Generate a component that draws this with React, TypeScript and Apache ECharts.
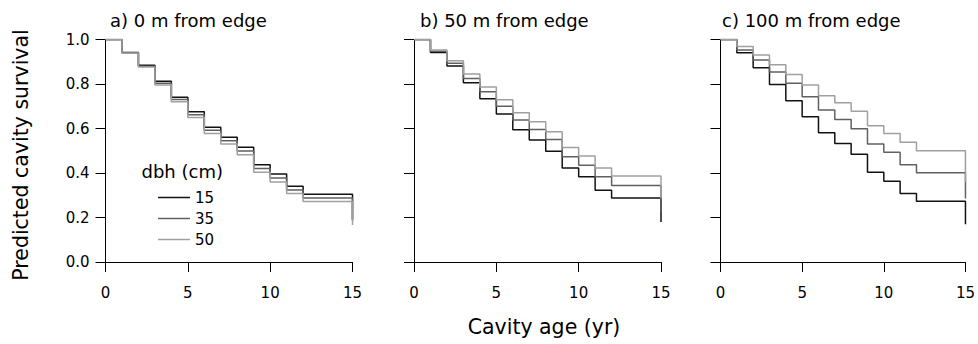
import React, { useEffect, useRef } from "react";
import * as echarts from "echarts";

const years = [0, 1, 2, 3, 4, 5, 6, 7, 8, 9, 10, 11, 12, 15];
const dbhClasses = ["15", "35", "50"];
const panelTitles = ["a) 0 m from edge", "b) 50 m from edge", "c) 100 m from edge"];
const xTicks = [0, 5, 10, 15];
const yTicks = [0, 0.2, 0.4, 0.6, 0.8, 1.0];

// Panel a) 0 m from edge
const a15 = [1, 0.942, 0.884, 0.812, 0.741, 0.675, 0.606, 0.561, 0.516, 0.437, 0.396, 0.341, 0.304, 0.19];
const a35 = [1, 0.94, 0.88, 0.803, 0.73, 0.662, 0.592, 0.545, 0.499, 0.42, 0.378, 0.324, 0.288, 0.187];
const a50 = [1, 0.938, 0.876, 0.795, 0.72, 0.65, 0.578, 0.53, 0.482, 0.403, 0.36, 0.308, 0.272, 0.166];
// Panel b) 50 m from edge
const b15 = [1, 0.942, 0.881, 0.806, 0.734, 0.665, 0.594, 0.548, 0.498, 0.423, 0.383, 0.323, 0.288, 0.18];
const b35 = [1, 0.947, 0.893, 0.825, 0.765, 0.7, 0.638, 0.596, 0.551, 0.473, 0.435, 0.383, 0.344, 0.225];
const b50 = [1, 0.953, 0.905, 0.845, 0.786, 0.729, 0.671, 0.63, 0.585, 0.515, 0.476, 0.423, 0.386, 0.286];
// Panel c) 100 m from edge
const c15 = [1, 0.941, 0.873, 0.798, 0.725, 0.653, 0.581, 0.533, 0.484, 0.403, 0.363, 0.308, 0.273, 0.17];
const c35 = [1, 0.953, 0.908, 0.854, 0.803, 0.743, 0.683, 0.641, 0.599, 0.53, 0.493, 0.437, 0.401, 0.285];
const c50 = [1, 0.968, 0.93, 0.887, 0.843, 0.795, 0.747, 0.716, 0.677, 0.612, 0.578, 0.538, 0.5, 0.36];

const panels = [
  [a15, a35, a50],
  [b15, b35, b50],
  [c15, c35, c50],
];

const colors = ["#111111", "#606060", "#a0a0a0"];
const FONT = "DejaVu Sans";

export default function App() {
  const ref = useRef<HTMLDivElement>(null);
  useEffect(() => {
    if (!ref.current) return;
    const chart = echarts.init(ref.current, undefined, { renderer: "svg" });
    const gridLefts = [105.5, 414, 720.5];
    const grids = gridLefts.map((l) => ({ left: l, top: 39.5, width: 247, height: 222.5 }));
    const xAxes = grids.map((_, i) => ({
      type: "value",
      gridIndex: i,
      min: 0,
      max: 15,
      interval: 5,
      offset: 10,
      axisLine: { show: true, lineStyle: { color: "#000", width: 1 } },
      axisTick: { show: true, length: 10, lineStyle: { color: "#000" } },
      axisLabel: {
        show: true,
        margin: 13,
        color: "#000",
        fontSize: 15,
        fontFamily: FONT,
        showMinLabel: true,
        showMaxLabel: true,
      },
      splitLine: { show: false },
    }));
    const yAxes = grids.map((_, i) => ({
      type: "value",
      gridIndex: i,
      min: 0,
      max: 1,
      interval: 0.2,
      axisLine: { show: true, lineStyle: { color: "#000", width: 1 } },
      axisTick: { show: true, length: 10, lineStyle: { color: "#000" } },
      axisLabel: {
        show: i === 0,
        margin: 16,
        color: "#000",
        fontSize: 15,
        fontFamily: FONT,
        formatter: (v: number) => v.toFixed(1),
      },
      splitLine: { show: false },
    }));
    const series: any[] = [];
    panels.forEach((p, pi) => {
      p.forEach((vals, si) => {
        series.push({
          name: dbhClasses[si],
          type: "line",
          step: "end",
          xAxisIndex: pi,
          yAxisIndex: pi,
          symbol: "none",
          showSymbol: false,
          data: years.map((yr, k) => [yr, vals[k]]),
          lineStyle: { color: colors[si], width: 1.5 },
          itemStyle: { color: colors[si] },
          emphasis: { disabled: true },
        });
      });
    });
    const graphic: any[] = panelTitles.map((t, i) => ({
      type: "text",
      x: gridLefts[i] + [4.5, 6, 1.5][i],
      y: 20,
      style: {
        text: t,
        fontSize: 18,
        fontFamily: FONT,
        fill: "#000",
        align: "left",
        verticalAlign: "middle",
      },
    }));
    graphic.push({
      type: "text",
      x: 21,
      y: 155,
      rotation: Math.PI / 2,
      style: {
        text: "Predicted cavity survival",
        fontSize: 20.5,
        fontFamily: FONT,
        fill: "#000",
        align: "center",
        verticalAlign: "middle",
      },
    });
    graphic.push({
      type: "text",
      x: 544,
      y: 327,
      style: {
        text: "Cavity age (yr)",
        fontSize: 20.5,
        fontFamily: FONT,
        fill: "#000",
        align: "center",
        verticalAlign: "middle",
      },
    });
    graphic.push({
      type: "text",
      x: 141.5,
      y: 171,
      style: {
        text: "dbh (cm)",
        fontSize: 18,
        fontFamily: FONT,
        fill: "#000",
        align: "left",
        verticalAlign: "middle",
      },
    });
    chart.setOption({
      animation: false,
      backgroundColor: "#fff",
      grid: grids,
      xAxis: xAxes,
      yAxis: yAxes,
      series,
      graphic,
      legend: {
        data: dbhClasses,
        orient: "vertical",
        left: 153,
        top: 185,
        icon: "rect",
        itemWidth: 32,
        itemHeight: 1.5,
        itemGap: 6,
        textStyle: { fontSize: 15, fontFamily: FONT, color: "#000", lineHeight: 15 },
        selectedMode: false,
      },
    });
    return () => chart.dispose();
  }, []);
  return (
    <div
      ref={ref}
      style={{ position: "fixed", left: 0, top: 0, width: 978, height: 344 }}
    />
  );
}
